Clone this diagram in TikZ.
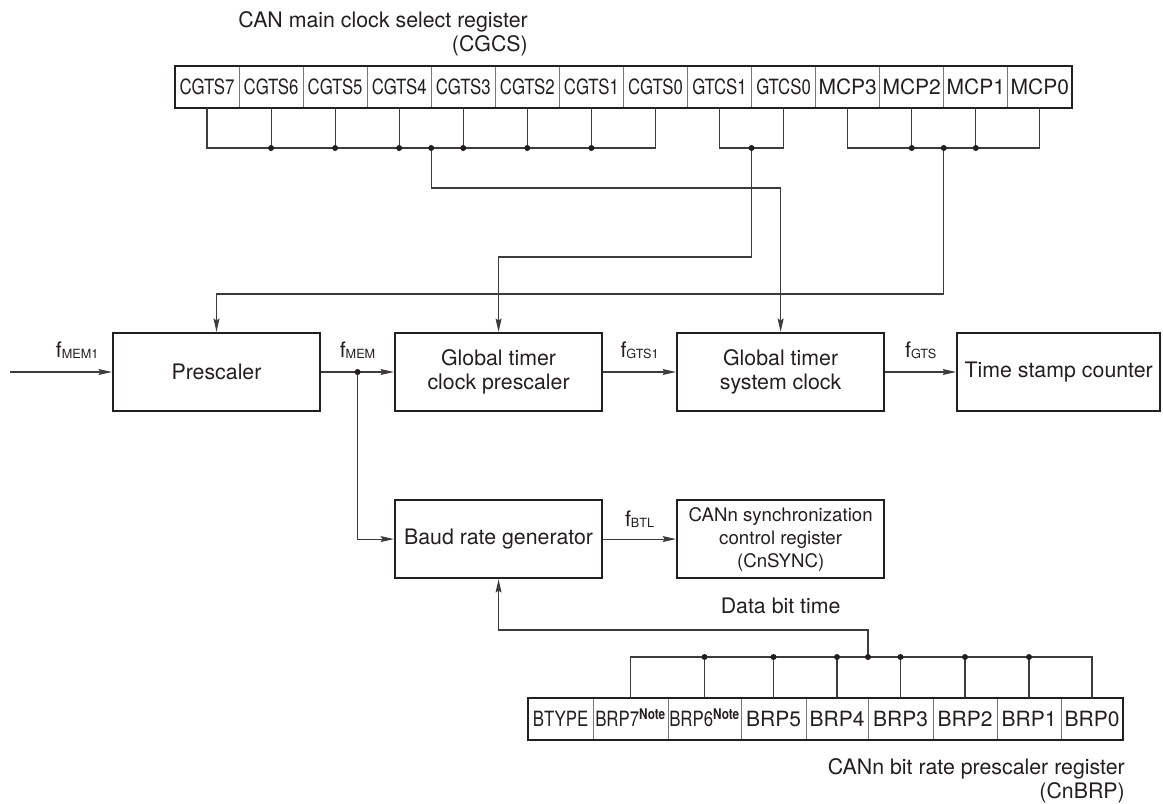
\documentclass[tikz,border=0pt]{standalone}
\usepackage{fontspec}
\setmainfont{TeX Gyre Heros}
\usetikzlibrary{positioning, arrows.meta, fit, calc}
\definecolor{inkDark}{RGB}{35, 31, 32}
\definecolor{cellLine}{RGB}{120, 120, 120}
\definecolor{wireGray}{RGB}{60, 60, 60}
\newcommand{\boxfont}{\fontsize{16}{18}\selectfont}
\newcommand{\regfont}{\fontsize{15.75}{18}\selectfont}
\newcommand{\syncfont}{\fontsize{14}{17.25}\selectfont}
\newcommand{\nrw}[1]{\scalebox{0.8}[1]{#1}}
\newcommand{\fsig}[1]{f\raisebox{-0.8pt}{\fontsize{9.5}{10}\selectfont #1}}
\newcommand{\notemark}{\textsuperscript{\bfseries Note}}

\begin{document}
\begin{tikzpicture}[
    x=0.75pt, y=-0.75pt,
    font=\boxfont,
    >={Stealth[length=10pt, width=4.5pt, inset=1.5pt]},
    node distance=54.5pt and 54.5pt,
    box/.style={
        draw=inkDark,
        rectangle,
        line width=1.8pt,
        minimum width=155.25pt,
        minimum height=58.5pt,
        align=center,
        text=inkDark
    },
    bitcell/.style={
        draw=cellLine,
        line width=0.6pt,
        minimum width=48.05pt,
        minimum height=31.5pt,
        text height=11.3pt,
        text depth=0pt,
        inner sep=0pt,
        outer sep=0pt,
        font=\regfont,
        text=inkDark
    },
    regbox/.style={
        draw=inkDark,
        line width=1.8pt,
        inner sep=0pt
    },
    caption/.style={
        align=right,
        inner sep=0pt,
        font=\fontsize{16}{18.5}\selectfont,
        text=inkDark
    },
    flabel/.style={
        inner sep=0pt,
        yshift=16.5pt,
        text=inkDark
    },
    wire/.style={
        draw=wireGray,
        line width=0.8pt
    },
    arrow/.style={
        wire,
        ->
    },
    dot/.style={
        circle,
        fill=inkDark,
        inner sep=0pt,
        minimum size=4.5pt
    }
]
\useasboundingbox (0,0) rectangle (1163,803);

% ================= CGCS REGISTER =================
\node[caption, anchor=north east] (cgcstitle) at (528,11) {CAN main clock select register\\(CGCS)};

\node[bitcell] (g7) at (207,87) {\nrw{CGTS7}};
\node[bitcell, right=0pt of g7] (g6) {\nrw{CGTS6}};
\node[bitcell, right=0pt of g6] (g5) {\nrw{CGTS5}};
\node[bitcell, right=0pt of g5] (g4) {\nrw{CGTS4}};
\node[bitcell, right=0pt of g4] (g3) {\nrw{CGTS3}};
\node[bitcell, right=0pt of g3] (g2) {\nrw{CGTS2}};
\node[bitcell, right=0pt of g2] (g1) {\nrw{CGTS1}};
\node[bitcell, right=0pt of g1] (g0) {\nrw{CGTS0}};
\node[bitcell, right=0pt of g0] (t1) {\nrw{GTCS1}};
\node[bitcell, right=0pt of t1] (t0) {\nrw{GTCS0}};
\node[bitcell, right=0pt of t0] (m3) {MCP3};
\node[bitcell, right=0pt of m3] (m2) {MCP2};
\node[bitcell, right=0pt of m2] (m1) {MCP1};
\node[bitcell, right=0pt of m1] (m0) {MCP0};
\node[regbox, fit=(g7) (m0)] (cgcs) {};

% ================= CLOCK PATH =================
\node[box] (pre) at (216.5,372) {Prescaler};
\node[box, right=of pre] (gtcp) {Global timer\\clock prescaler};
\node[box, right=of gtcp] (gtsc) {Global timer\\system clock};
\node[box, right=53pt of gtsc, minimum width=152.25pt] (tsc) {Time stamp counter};

\node[box, below=65pt of gtcp] (baud) {Baud rate generator};
\node[box, right=of baud, font=\syncfont] (sync) {CANn synchronization\\control register\\(CnSYNC)};
\node[below=14pt of sync, inner sep=0pt, text=inkDark] (dbt) {Data bit time};

% ================= CnBRP REGISTER =================
\node[bitcell, minimum width=48.75pt] (bt) at (560.5,719) {\nrw{BTYPE}};
\node[bitcell, minimum width=56.25pt, right=0pt of bt] (b7) {\nrw{BRP7\notemark}};
\node[bitcell, minimum width=54.75pt, right=0pt of b7] (b6) {\nrw{BRP6\notemark}};
\node[bitcell, minimum width=48.75pt, right=0pt of b6] (b5) {BRP5};
\node[bitcell, minimum width=46.5pt, right=0pt of b5] (b4) {BRP4};
\node[bitcell, minimum width=48.75pt, right=0pt of b4] (b3) {BRP3};
\node[bitcell, minimum width=48pt, right=0pt of b3] (b2) {BRP2};
\node[bitcell, minimum width=48pt, right=0pt of b2] (b1) {BRP1};
\node[bitcell, minimum width=46.5pt, right=0pt of b1] (b0) {BRP0};
\node[regbox, fit=(bt) (b0)] (cnbrp) {};

\node[caption, anchor=north east] (brptitle) at (1125,758) {CANn bit rate prescaler register\\(CnBRP)};

% ================= CGCS WIRING =================
\coordinate (busA) at (0,148);
\coordinate (runCG) at (0,188);
\coordinate (runGT) at (0,257);
\coordinate (runMC) at (0,294);

\draw[wire] (g7.south) |- (g0.south |- busA) -- (g0.south);
\draw[wire] (g6.south) -- (g6.south |- busA) node[dot] {};
\draw[wire] (g5.south) -- (g5.south |- busA) node[dot] {};
\draw[wire] (g4.south) -- (g4.south |- busA) node[dot] {};
\draw[wire] (g3.south) -- (g3.south |- busA) node[dot] {};
\draw[wire] (g2.south) -- (g2.south |- busA) node[dot] {};
\draw[wire] (g1.south) -- (g1.south |- busA) node[dot] {};
\coordinate (jcg) at (g4.south east |- busA);
\draw[arrow] (jcg) node[dot] {} -- (jcg |- runCG) -| (gtsc.north);

\draw[wire] (t1.south) |- (t0.south |- busA) -- (t0.south);
\coordinate (jgt) at (t1.south east |- busA);
\draw[arrow] (jgt) node[dot] {} -- (jgt |- runGT) -| (gtcp.north);

\draw[wire] (m3.south) |- (m0.south |- busA) -- (m0.south);
\draw[wire] (m2.south) -- (m2.south |- busA) node[dot] {};
\draw[wire] (m1.south) -- (m1.south |- busA) node[dot] {};
\coordinate (jmc) at (m2.south east |- busA);
\draw[arrow] (jmc) node[dot] {} -- (jmc |- runMC) -| (pre.north);

% ================= CLOCK ARROWS =================
\coordinate (fin) at (10,372);
\draw[arrow] (fin) -- (pre.west) node[flabel, pos=0.66] {\fsig{MEM1}};
\draw[arrow] (pre.east) -- (gtcp.west) node[flabel, midway] {\fsig{MEM}};
\draw[arrow] (gtcp.east) -- (gtsc.west) node[flabel, midway] {\fsig{GTS1}};
\draw[arrow] (gtsc.east) -- (tsc.west) node[flabel, midway] {\fsig{GTS}};

\coordinate (jmem) at ($(pre.east)!0.5!(gtcp.west)$);
\draw[arrow] (jmem) node[dot] {} |- (baud.west);
\draw[arrow] (baud.east) -- (sync.west) node[flabel, midway, yshift=-1.5pt] {\fsig{BTL}};

% ================= CnBRP WIRING =================
\coordinate (busB) at (0,657);
\coordinate (runBR) at (0,630);

\draw[wire] (b7.north) |- (b0.north |- busB) -- (b0.north);
\draw[wire] (b6.north) -- (b6.north |- busB) node[dot] {};
\draw[wire] (b5.north) -- (b5.north |- busB) node[dot] {};
\draw[wire] (b4.north) -- (b4.north |- busB) node[dot] {};
\draw[wire] (b3.north) -- (b3.north |- busB) node[dot] {};
\draw[wire] (b2.north) -- (b2.north |- busB) node[dot] {};
\draw[wire] (b1.north) -- (b1.north |- busB) node[dot] {};
\coordinate (jbr) at (b4.north east |- busB);
\draw[arrow] (jbr) node[dot] {} -- (jbr |- runBR) -| (baud.south);

\end{tikzpicture}
\end{document}
